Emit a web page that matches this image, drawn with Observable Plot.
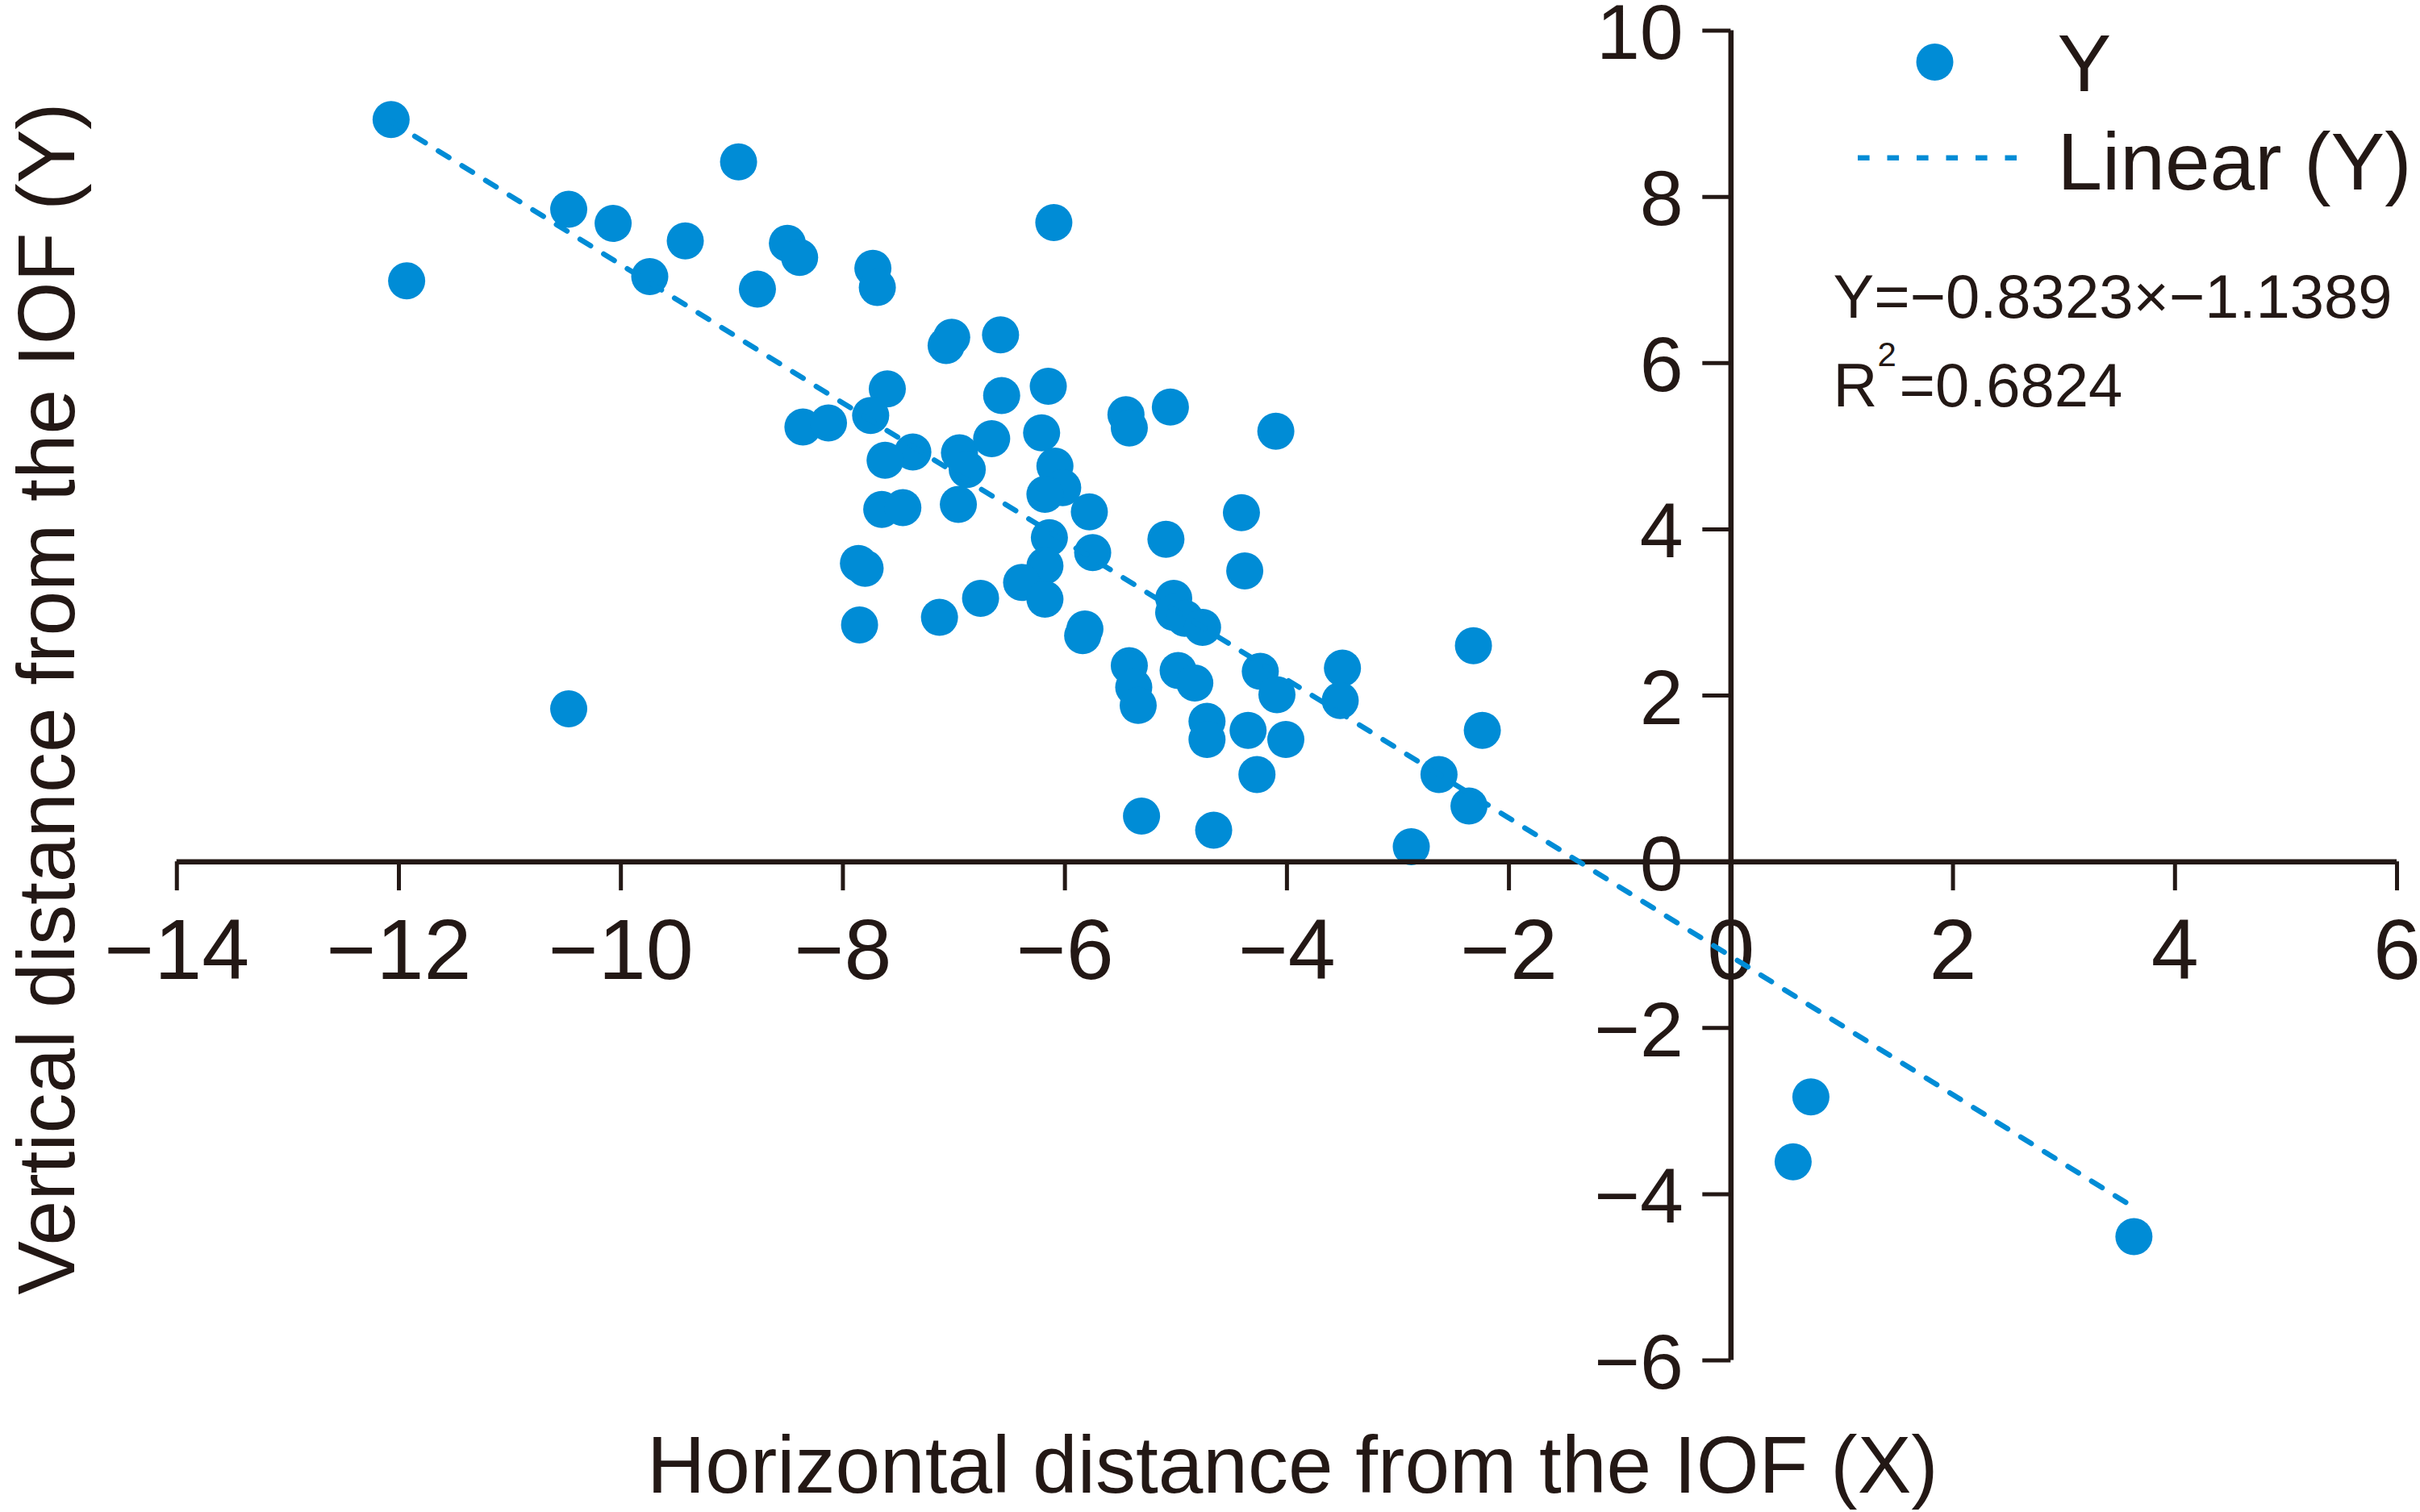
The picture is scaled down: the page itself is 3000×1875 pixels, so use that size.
<!DOCTYPE html>
<html>
<head>
<meta charset="utf-8">
<script src="https://cdn.jsdelivr.net/npm/d3@7"></script>
<script src="https://cdn.jsdelivr.net/npm/@observablehq/plot@0.6"></script>
<style>
  html, body { margin: 0; padding: 0; background: #ffffff; }
  #chart svg { display: block; }
</style>
</head>
<body>
<div id="chart"></div>
<script>
// ---- data ----
const xValues = [
  -12.07, -11.93, -10.47, -10.07, -9.74, -9.42, -8.94, -8.77, -8.50, -8.39,
  -7.73, -7.69, -6.10, -7.02, -7.07, -6.58, -7.60, -8.36, -8.13, -7.75,
  -6.57, -6.15, -5.45, -5.42, -7.37, -7.62, -6.95, -6.88, -6.96, -6.66,
  -6.21, -6.09, -6.02, -6.18, -5.05, -4.10, -7.65, -7.46, -5.78, -6.14,
  -5.75, -6.18, -6.39, -6.18, -7.86, -7.80, -7.85, -7.13, -6.76, -5.82,
  -5.84, -5.42, -5.38, -5.34, -5.31, -4.41, -5.09, -4.38, -5.02, -5.02,
  -4.92, -4.76, -4.24, -4.09, -3.50, -3.52, -4.98, -4.83, -4.72, -4.72,
  -4.35, -4.01, -4.27, -4.66, -2.32, -2.24, -2.63, -2.36, -2.88, -10.47,
  0.56, 0.72, 3.63
];
const yValues = [
  8.93, 6.99, 7.85, 7.68, 7.04, 7.47, 8.42, 6.89, 7.44, 7.27,
  7.14, 6.91, 7.69, 6.31, 6.21, 6.34, 5.69, 5.23, 5.28, 5.37,
  5.61, 5.72, 5.38, 5.22, 4.93, 4.83, 4.92, 4.72, 4.30, 5.09,
  5.16, 4.76, 4.50, 4.42, 5.47, 5.18, 4.24, 4.26, 4.21, 3.90,
  3.72, 3.56, 3.36, 3.16, 3.59, 3.53, 2.85, 2.94, 3.17, 2.80,
  2.72, 2.36, 2.10, 1.88, 0.55, 4.20, 3.88, 3.50, 3.17, 3.00,
  2.93, 2.82, 2.29, 2.01, 2.33, 1.94, 2.30, 2.15, 1.69, 1.47,
  1.58, 1.47, 1.05, 0.38, 2.60, 1.58, 1.05, 0.67, 0.18, 1.84,
  -3.61, -2.83, -4.51
];
const xTicks = [-14, -12, -10, -8, -6, -4, -2, 0, 2, 4, 6];
const yTicks = [-6, -4, -2, 0, 2, 4, 6, 8, 10];
const xDomain = [-14, 6];
const yDomain = [-6, 10];
const slope = -0.8323;
const intercept = -1.1389;
const xTitle = "Horizontal distance from the IOF (X)";
const yTitle = "Vertical distance from the IOF (Y)";
const legendLabels = ["Y", "Linear (Y)"];
const equationText = "Y=−0.8323×−1.1389";
const r2Value = "=0.6824";

// ---- layout / style ----
const W = 3000, H = 1875;
const mL = 218.75, mR = 29, mT = 37.5, mB = 188.5;
const blue = "#008cd6";
const ink = "#231815";
const font = "'Liberation Sans', Arial, Helvetica, sans-serif";
const pxPerY = (H - mT - mB) / (yDomain[1] - yDomain[0]);
const pxPerX = (W - mL - mR) / (xDomain[1] - xDomain[0]);

const points = xValues.map((x, i) => ({x, y: yValues[i]}));
const xMin = d3.min(xValues), xMax = d3.max(xValues);
const trend = [xMin, xMax].map(x => ({x, y: slope * x + intercept}));
const fmt = d => d < 0 ? "\u2212" + Math.abs(d) : String(d);

function legendLine() {
  const right = W - mR;
  return d3.create("svg:line")
    .attr("x1", right - 668).attr("x2", right - 471)
    .attr("y1", mT + 158.2).attr("y2", mT + 158.2)
    .attr("stroke", blue).attr("stroke-width", 6.5)
    .attr("stroke-dasharray", "14.6,21.9")
    .node();
}

const chart = Plot.plot({
  width: W,
  height: H,
  marginLeft: mL,
  marginRight: mR,
  marginTop: mT,
  marginBottom: mB,
  style: {fontFamily: font, color: ink, background: "#ffffff"},
  x: {domain: xDomain, axis: null},
  y: {domain: yDomain, axis: null},
  marks: [
    // points
    Plot.dot(points, {x: "x", y: "y", r: 23, fill: blue}),
    // axes lines
    Plot.ruleY([0], {x1: xDomain[0], x2: xDomain[1], stroke: ink, strokeWidth: 6.5}),
    Plot.ruleX([0], {y1: yDomain[0], y2: yDomain[1], stroke: ink, strokeWidth: 6.5}),
    // ticks
    Plot.ruleX(xTicks, {x: d => d, y1: 0, y2: -36 / pxPerY, stroke: ink, strokeWidth: 5}),
    Plot.ruleY(yTicks, {y: d => d, x1: 0, x2: -35 / pxPerX, stroke: ink, strokeWidth: 5}),
    // tick labels
    Plot.text(xTicks, {x: d => d, y: 0, text: fmt, dy: 145, lineAnchor: "bottom", fontSize: 106, fill: ink}),
    Plot.text(yTicks, {x: 0, y: d => d, text: fmt, textAnchor: "end", dx: -59, dy: 4, fontSize: 97, fill: ink}),
    // trendline
    Plot.line(trend, {x: "x", y: "y", stroke: blue, strokeWidth: 6.5, strokeDasharray: "15.5,19"}),
    // axis titles
    Plot.text([xTitle], {text: d => d, frameAnchor: "bottom", textAnchor: "middle", dx: 7, dy: 163.5, lineAnchor: "bottom", fontSize: 100, fill: ink}),
    Plot.text([yTitle], {text: d => d, frameAnchor: "left", textAnchor: "middle", dx: 91 - mL, dy: 4, rotate: -90, lineAnchor: "bottom", fontSize: 100, fill: ink}),
    // legend
    Plot.dot([0], {frameAnchor: "top-right", dx: -573, dy: 38.9, r: 23, fill: blue}),
    Plot.text([legendLabels[0]], {text: d => d, frameAnchor: "top-right", dx: -421, dy: 75, textAnchor: "start", lineAnchor: "bottom", fontSize: 100, fill: ink}),
    legendLine,
    Plot.text([legendLabels[1]], {text: d => d, frameAnchor: "top-right", dx: -421, dy: 196.5, textAnchor: "start", lineAnchor: "bottom", fontSize: 100, fill: ink}),
    // equation
    Plot.text([equationText], {text: d => d, frameAnchor: "top-right", dx: -699, dy: 355.5, textAnchor: "start", lineAnchor: "bottom", fontSize: 76, fill: ink}),
    Plot.text(["R"], {text: d => d, frameAnchor: "top-right", dx: -699, dy: 466, textAnchor: "start", lineAnchor: "bottom", fontSize: 76, fill: ink}),
    Plot.text(["2"], {text: d => d, frameAnchor: "top-right", dx: -644, dy: 415.5, textAnchor: "start", lineAnchor: "bottom", fontSize: 42, fill: ink}),
    Plot.text([r2Value], {text: d => d, frameAnchor: "top-right", dx: -617, dy: 466, textAnchor: "start", lineAnchor: "bottom", fontSize: 76, fill: ink})
  ]
});

document.getElementById("chart").appendChild(chart);
</script>
</body>
</html>
